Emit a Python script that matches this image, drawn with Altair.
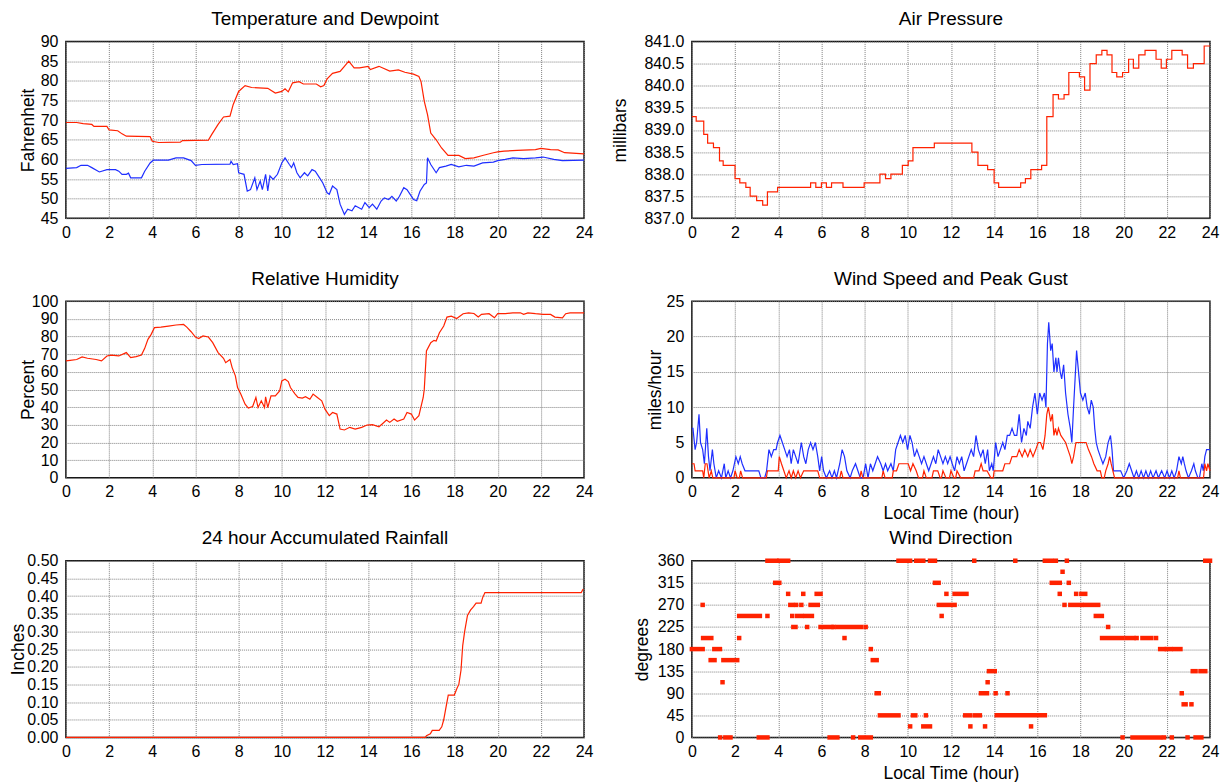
import altair as alt
import pandas as pd

FONT = "Liberation Sans"
RED = "#ff2200"
BLUE = "#1f2fff"

# ---------------- data ----------------
temp_hours = [0, 0.5, 0.8, 1.2, 1.3, 1.9, 2.0, 2.4, 2.6, 2.8, 3.9, 4.0, 4.3, 5.3, 5.4, 6.6, 6.75, 7.05, 7.3, 7.6,
              7.75, 8.0, 8.3, 8.6, 9.35, 9.7, 10.0, 10.15, 10.3, 10.5, 10.8, 11.0, 11.6, 11.8, 11.95, 12.1, 12.35,
              12.7, 12.9, 13.1, 13.35, 13.6, 14.0, 14.1, 14.5, 15.0, 15.4, 15.7, 16.1, 16.35, 16.45, 16.6, 16.75,
              16.9, 17.15, 17.4, 17.7, 18.2, 18.5, 18.9, 19.3, 19.8, 20.0, 20.3, 20.9, 21.75, 22.0, 22.45, 22.8,
              23.1, 24.0]
temp_values = [69.4, 69.4, 69.1, 68.9, 68.4, 68.4, 67.5, 67.3, 66.5, 65.9, 65.8, 64.6, 64.3, 64.4, 64.8, 64.9, 66.3,
               68.9, 70.8, 71.0, 74.0, 77.3, 78.8, 78.3, 78.1, 76.9, 77.3, 78.0, 77.2, 79.5, 79.8, 79.2, 79.2, 78.5,
               78.8, 80.5, 81.9, 82.4, 83.7, 85.0, 83.3, 83.3, 83.7, 82.9, 83.7, 82.5, 82.8, 82.2, 81.7, 81.1, 79.8,
               74.8, 71.4, 66.7, 65.0, 62.9, 61.0, 61.0, 60.2, 60.4, 61.0, 61.7, 61.9, 62.1, 62.3, 62.5, 62.8, 62.5,
               62.4, 61.7, 61.4]

dew_hours = [0, 0.5, 0.7, 1.0, 1.2, 1.55, 1.9, 2.3, 2.45, 2.6, 2.8, 2.9, 3.0, 3.5, 3.65, 3.9, 4.05, 4.75, 5.1, 5.45,
             5.8, 6.0, 6.3, 7.6, 7.65, 7.75, 7.95, 8.0, 8.25, 8.4, 8.55, 8.75, 8.85, 9.0, 9.1, 9.25, 9.35, 9.45, 9.6,
             9.8, 10.0, 10.15, 10.35, 10.45, 10.55, 10.7, 10.85, 11.05, 11.2, 11.4, 11.55, 11.75, 11.9, 12.1, 12.2,
             12.35, 12.55, 12.7, 12.9, 13.05, 13.25, 13.4, 13.7, 13.85, 14.05, 14.2, 14.4, 14.6, 14.75, 14.95, 15.1,
             15.3, 15.45, 15.65, 15.8, 16.1, 16.25, 16.4, 16.6, 16.7, 16.75, 16.9, 17.15, 17.3, 17.6, 17.85, 18.2,
             18.55, 18.9, 19.3, 19.8, 20.0, 20.35, 20.7, 21.2, 21.75, 22.1, 22.6, 23.0, 24.0]
dew_values = [57.7, 57.9, 58.5, 58.5, 57.9, 56.8, 57.4, 57.4, 57.0, 56.2, 56.2, 56.5, 55.3, 55.3, 57.0, 59.1, 59.8,
              59.8, 60.4, 60.4, 59.7, 58.5, 58.7, 58.8, 59.5, 58.7, 58.9, 56.6, 56.2, 51.9, 52.3, 55.3, 52.3, 54.5,
              52.3, 56.2, 52.0, 55.8, 54.9, 56.2, 59.1, 60.4, 58.7, 57.9, 59.1, 56.6, 55.3, 56.6, 55.8, 57.4, 57.0,
              55.3, 54.0, 51.5, 51.1, 53.2, 52.3, 48.6, 46.0, 47.3, 46.9, 48.2, 47.3, 49.0, 47.7, 48.6, 47.3, 49.4,
              50.2, 49.8, 50.6, 49.4, 50.6, 52.8, 52.3, 49.8, 49.5, 51.9, 53.6, 54.0, 60.4, 58.7, 56.6, 57.9, 58.3,
              58.7, 58.1, 58.5, 58.3, 59.1, 59.3, 59.7, 60.0, 60.4, 60.2, 60.4, 60.6, 60.0, 59.7, 59.8]

pres_hours = [0, 0.2, 0.55, 0.73, 1.0, 1.28, 1.45, 2.0, 2.22, 2.5, 2.7, 3.0, 3.28, 3.5, 3.97, 5.5, 5.74, 6.0, 6.23,
              6.47, 7.0, 7.98, 8.71, 8.97, 9.22, 9.75, 10.02, 10.24, 11.23, 12.97, 13.25, 13.7, 14.0, 14.21, 15.23,
              15.45, 15.7, 16.2, 16.44, 16.73, 16.98, 17.24, 17.46, 17.95, 18.19, 18.44, 18.73, 18.99, 19.23, 19.46,
              19.68, 19.95, 20.23, 20.45, 20.7, 20.99, 21.5, 21.74, 21.98, 22.23, 22.71, 22.96, 23.23, 23.73, 24.0]
pres_values = [839.3, 839.2, 838.9, 838.7, 838.6, 838.3, 838.2, 837.9, 837.8, 837.7, 837.5, 837.4, 837.3, 837.6,
               837.7, 837.8, 837.7, 837.8, 837.7, 837.8, 837.7, 837.8, 838.0, 837.9, 838.0, 838.2, 838.3, 838.6,
               838.7, 838.5, 838.2, 838.1, 837.8, 837.7, 837.8, 837.9, 838.1, 838.2, 839.3, 839.8, 839.7, 839.8,
               840.3, 840.2, 839.9, 840.5, 840.7, 840.8, 840.7, 840.3, 840.2, 840.3, 840.6, 840.4, 840.7, 840.8,
               840.6, 840.4, 840.6, 840.8, 840.7, 840.4, 840.5, 840.9, 840.9]

rh_hours = [0, 0.2, 0.5, 0.75, 1.0, 1.4, 1.65, 1.9, 2.1, 2.45, 2.8, 3.0, 3.25, 3.5, 3.65, 3.8, 3.95, 4.1, 4.4, 4.75,
            5.1, 5.45, 5.6, 5.8, 6.0, 6.15, 6.35, 6.6, 6.8, 7.05, 7.3, 7.4, 7.6, 7.7, 7.85, 7.95, 8.1, 8.3, 8.45,
            8.65, 8.8, 8.9, 9.05, 9.2, 9.25, 9.35, 9.5, 9.7, 9.9, 10.0, 10.15, 10.3, 10.4, 10.6, 10.75, 10.95, 11.1,
            11.3, 11.45, 11.65, 11.85, 12.0, 12.2, 12.35, 12.55, 12.7, 12.9, 13.15, 13.4, 13.7, 13.95, 14.2, 14.5,
            14.65, 14.85, 15.0, 15.2, 15.35, 15.65, 15.8, 16.0, 16.15, 16.35, 16.55, 16.6, 16.7, 16.9, 17.05,
            17.15, 17.3, 17.5, 17.65, 17.85, 18.1, 18.4, 18.65, 18.9, 19.1, 19.25, 19.6, 19.85, 20.0, 20.35, 20.7,
            21.05, 21.2, 21.4, 21.75, 22.1, 22.45, 22.65, 23.0, 23.15, 23.35, 24.0]
rh_values = [66.2, 66.5, 67.0, 68.4, 67.7, 67.0, 66.2, 69.0, 69.5, 69.0, 70.9, 68.0, 68.6, 69.5, 73.3, 78.4, 81.2,
             85.0, 85.3, 85.9, 86.5, 86.8, 85.3, 82.7, 79.7, 78.8, 80.3, 79.7, 76.5, 70.9, 67.7, 65.2, 67.0, 62.4,
             57.7, 51.1, 47.4, 41.7, 39.5, 40.4, 45.5, 39.8, 43.6, 39.8, 45.9, 39.8, 46.4, 46.4, 49.2, 54.9, 55.8,
             54.5, 51.1, 47.7, 45.5, 45.1, 45.9, 44.5, 47.4, 45.5, 43.6, 38.9, 35.2, 37.0, 36.1, 27.6, 27.1, 28.6,
             27.6, 28.6, 29.9, 30.1, 28.9, 30.5, 32.7, 31.4, 33.3, 32.0, 33.3, 37.0, 36.1, 32.7, 35.2, 45.5, 50.2,
             71.8, 76.5, 77.8, 77.4, 82.1, 85.9, 91.0, 91.5, 90.2, 92.9, 93.4, 93.0, 91.0, 92.5, 92.9, 90.6, 92.9,
             92.9, 93.4, 93.4, 92.5, 93.4, 92.9, 92.5, 92.5, 91.0, 90.6, 92.9, 93.4, 93.4]

gust_hours = [0.0, 0.05, 0.15, 0.22, 0.33, 0.4, 0.5, 0.58, 0.69, 0.77, 0.84, 0.95, 1.02, 1.13, 1.24, 1.37, 1.5,
              1.57, 1.68, 1.79, 1.9, 2.04, 2.15, 2.24, 2.33, 2.46, 3.1, 3.2, 3.37, 3.46, 3.57, 3.68, 3.79, 3.9, 3.97,
              4.08, 4.19, 4.3, 4.41, 4.52, 4.6, 4.7, 4.81, 4.92, 5.07, 5.18, 5.28, 5.39, 5.5, 5.61, 5.72, 5.83, 5.92,
              6.01, 6.1, 6.23, 6.38, 6.49, 6.6, 6.7, 6.85, 6.96, 7.07, 7.18, 7.33, 7.43, 7.58, 7.69, 7.8, 7.93, 8.05,
              8.16, 8.27, 8.38, 8.49, 8.6, 8.75, 8.86, 8.97, 9.07, 9.22, 9.33, 9.44, 9.55, 9.66, 9.77, 9.88, 9.99,
              10.1, 10.2, 10.31, 10.42, 10.53, 10.64, 10.75, 10.86, 10.97, 11.08, 11.19, 11.3, 11.41, 11.52, 11.63,
              11.74, 11.85, 11.96, 12.06, 12.17, 12.28, 12.39, 12.5, 12.61, 12.72, 12.83, 12.94, 13.05, 13.16,
              13.27, 13.38, 13.49, 13.59, 13.7, 13.78, 13.89, 13.96, 14.07, 14.18, 14.29, 14.4, 14.5, 14.61, 14.72,
              14.83, 14.94, 15.05, 15.16, 15.27, 15.38, 15.49, 15.56, 15.67, 15.78, 15.89, 16.0, 16.11, 16.22,
              16.33, 16.4, 16.47, 16.53, 16.62, 16.69, 16.77, 16.86, 16.91, 16.98, 17.06, 17.13, 17.22, 17.31,
              17.42, 17.53, 17.6, 17.68, 17.75, 17.82, 17.91, 18.0, 18.11, 18.22, 18.31, 18.41, 18.5, 18.59, 18.66,
              18.73, 18.81, 18.92, 19.04, 19.17, 19.28, 19.39, 19.46, 19.53, 19.68, 19.86, 20.0, 20.15, 20.26,
              20.37, 20.48, 20.59, 20.7, 20.81, 20.92, 21.03, 21.14, 21.25, 21.36, 21.5, 21.61, 21.76, 21.9, 22.01,
              22.12, 22.23, 22.34, 22.45, 22.56, 22.67, 22.74, 22.81, 22.89, 23.0, 23.14, 23.25, 23.32, 23.44,
              23.51, 23.62, 23.69, 23.76, 23.84, 24.0]
gust_values = [7, 7, 4, 5, 9, 5, 4, 2, 7, 3, 1, 4, 2, 0, 1, 0, 2, 0, 1, 0, 1, 3, 2, 3, 2, 1, 1, 0, 0, 1, 4, 3, 4, 4, 5,
               6, 5, 4, 3, 4, 2, 4, 3, 2, 5, 3, 2, 4, 5, 4, 5, 3, 1, 3, 1, 0, 1, 0, 1, 0, 2, 4, 3, 1, 0, 1, 2, 1, 0,
               0, 2, 0, 2, 1, 2, 3, 2, 1, 2, 1, 2, 1, 4, 5, 6, 5, 6, 4, 6, 5, 3, 4, 3, 2, 3, 2, 1, 2, 3, 2, 4, 3, 2,
               3, 2, 3, 2, 1, 3, 2, 3, 1, 2, 3, 4, 3, 6, 4, 3, 4, 2, 4, 1, 2, 1, 5, 3, 4, 5, 4, 6, 6, 7, 6, 6, 9, 5,
               7, 6, 8, 7, 10, 12, 9, 12, 11, 12, 10, 19, 22, 18, 19, 15, 17, 15, 17, 15, 14, 16, 12, 9, 7, 5, 10,
               14, 18, 15, 12, 11, 12, 10, 9, 11, 10, 7, 5, 4, 3, 2, 3, 5, 6, 4, 1, 1, 1, 0, 1, 2, 1, 0, 1, 0, 1, 0,
               1, 0, 1, 0, 1, 0, 1, 0, 1, 0, 1, 0, 1, 3, 2, 3, 2, 1, 0, 1, 2, 1, 0, 0, 2, 1, 3, 4, 4]

speed_hours = [0.0, 0.1, 0.15, 0.5, 0.55, 0.62, 0.7, 0.75, 0.8, 0.9, 0.97, 1.95, 2.0, 2.1, 2.2, 2.26, 2.35, 3.45,
               3.5, 4.0, 4.05, 4.15, 4.26, 4.37, 4.5, 4.6, 4.7, 4.81, 4.92, 5.03, 5.18, 5.83, 5.92, 6.85, 6.92, 7.0,
               7.78, 7.84, 7.92, 8.8, 8.86, 8.95, 9.28, 9.33, 9.48, 9.59, 10.02, 10.13, 10.24, 10.39, 10.5, 10.68,
               10.75, 10.86, 11.12, 11.19, 11.39, 11.5, 11.56, 11.63, 11.77, 11.93, 12.0, 12.14, 12.22, 12.28, 12.45,
               13.05, 13.12, 13.3, 13.4, 13.49, 13.67, 13.85, 13.96, 14.0, 14.4, 14.5, 14.72, 14.83, 15.05, 15.16,
               15.3, 15.42, 15.56, 15.67, 15.8, 15.93, 16.04, 16.15, 16.26, 16.36, 16.44, 16.51, 16.62, 16.7, 16.77,
               16.84, 16.91, 16.98, 17.09, 17.31, 17.42, 17.53, 17.6, 17.68, 17.79, 18.26, 18.37, 18.51, 18.62,
               18.77, 18.92, 18.99, 19.1, 19.17, 19.28, 19.35, 19.42, 19.5, 19.58, 22.5, 22.56, 22.63, 23.7, 23.76,
               23.84, 23.9, 24.0]
speed_values = [2, 2, 1, 1, 0, 2, 2, 1, 0, 1, 0, 0, 1, 0, 0, 1, 0, 0, 1, 1, 3, 2, 1, 0, 1, 0, 1, 0, 1, 0, 1, 1, 0, 0,
                1, 0, 0, 1, 0, 0, 1, 0, 0, 1, 1, 2, 2, 1, 2, 1, 0, 0, 1, 0, 0, 1, 1, 0, 0, 1, 0, 0, 1, 0, 0, 1, 0, 0,
                1, 1, 2, 1, 1, 0, 0, 1, 1, 2, 2, 3, 3, 4, 3, 4, 3, 4, 3, 4, 5, 5, 4, 6, 9, 10, 8, 9, 6, 7, 6, 7, 6,
                5, 4, 3, 2, 3, 5, 5, 4, 3, 2, 1, 1, 0, 0, 1, 2, 3, 2, 1, 0, 0, 1, 0, 0, 2, 1, 2, 1]

rain_hours = [0, 16.65, 16.7, 16.88, 16.97, 17.29, 17.41, 17.5, 17.59, 17.71, 17.99, 18.12, 18.2, 18.3, 18.38,
              18.47, 18.6, 18.74, 18.88, 19.0, 19.23, 19.3, 19.41, 23.87, 23.96]
rain_values = [0, 0, 0.005, 0.01, 0.02, 0.02, 0.03, 0.05, 0.08, 0.12, 0.12, 0.14, 0.15, 0.19, 0.26, 0.30, 0.345,
               0.36, 0.37, 0.38, 0.38, 0.395, 0.41, 0.41, 0.42]

# wind direction: runs of identical readings (start hour, end hour, degrees)
dir_start = [0.0, 0.5, 0.52, 0.87, 1.04, 1.31, 1.42, 1.46, 1.55, 2.19, 2.19, 3.1, 3.5, 3.5, 3.86, 4.05, 4.46, 4.56,
             4.83, 5.07, 5.5, 4.65, 4.88, 5.25, 4.7, 5.34, 5.16, 5.78, 5.96, 6.38, 6.56, 6.74, 8.05, 7.07, 7.47, 7.8,
             8.29, 8.38, 8.56, 8.71, 9.57, 10.11, 10.24, 10.39, 10.72, 10.84, 11.03, 11.26, 11.57, 11.44, 11.79,
             12.17, 12.66, 12.9, 13.08, 13.12, 13.39, 13.58, 13.7, 13.76, 14.07, 14.62, 14.12, 14.98, 15.71, 16.35,
             16.86, 16.67, 17.46, 17.17, 17.04, 17.8, 18.04, 17.37, 17.26, 17.53, 18.22, 18.71, 19.28, 19.0, 20.14,
             20.6, 20.87, 21.5, 19.95, 20.41, 21.87, 22.23, 22.96, 23.33, 21.69, 22.0, 22.36, 22.69, 22.78, 23.14,
             23.2, 23.56, 23.78]
dir_end = [0.5, 0.5, 0.9, 1.05, 1.3, 1.31, 1.42, 2.1, 1.79, 2.19, 3.15, 3.5, 3.5, 3.92, 4.05, 4.46, 4.46, 4.65,
           4.83, 5.07, 5.83, 4.65, 5.07, 5.56, 4.8, 5.34, 5.16, 5.96, 6.47, 6.74, 6.56, 7.84, 8.05, 7.07, 7.47, 8.29,
           8.29, 8.56, 8.66, 9.57, 10.11, 10.11, 10.35, 10.72, 11.03, 10.84, 11.26, 11.43, 11.57, 12.17, 11.79,
           12.72, 12.9, 12.9, 13.08, 13.34, 13.67, 13.58, 13.7, 14.03, 14.07, 14.62, 16.35, 14.98, 15.71, 16.67,
           16.86, 17.04, 17.46, 17.17, 17.04, 17.8, 18.22, 17.37, 17.26, 18.04, 18.82, 18.99, 19.28, 19.95, 20.46,
           20.6, 21.28, 21.5, 19.95, 21.69, 21.87, 22.23, 22.96, 23.6, 21.87, 22.18, 22.63, 22.69, 22.87, 23.14,
           23.33, 23.78, 24.0]
dir_degrees = [180, 270, 202.5, 157.5, 180, 0, 112.5, 157.5, 0, 202.5, 247.5, 0, 247.5, 360, 315, 360, 292.5, 270,
               270, 270, 270, 247.5, 247.5, 247.5, 225, 225, 292.5, 292.5, 225, 0, 225, 225, 225, 202.5, 0, 0, 180,
               157.5, 90, 45, 360, 22.5, 45, 360, 22.5, 45, 360, 315, 247.5, 270, 292.5, 292.5, 45, 22.5, 360, 45,
               90, 22.5, 112.5, 135, 90, 90, 45, 360, 22.5, 360, 360, 315, 315, 337.5, 292.5, 292.5, 292.5, 360, 270,
               270, 270, 247.5, 225, 202.5, 202.5, 202.5, 202.5, 202.5, 0, 0, 0, 0, 0, 0, 180, 180, 180, 90, 67.5,
               67.5, 135, 135, 360]

hour_ticks = list(range(0, 25, 2))

# ---------------- helpers ----------------
W, H = 519, 177


def x_enc(field="h", title=None):
    if title:
        ax = alt.Axis(values=hour_ticks, title=title, labelFlush=False, labelPadding=6, titleY=41,
                      titleBaseline="alphabetic")
    else:
        ax = alt.Axis(values=hour_ticks, title=None, labelFlush=False, labelPadding=6)
    return alt.X(f"{field}:Q", scale=alt.Scale(domain=[0, 24], nice=False, zero=False), axis=ax)


def y_enc(field, domain, ticks, fmt, title, tx):
    return alt.Y(f"{field}:Q",
                 scale=alt.Scale(domain=domain, nice=False, zero=False),
                 axis=alt.Axis(values=ticks, format=fmt, title=title, titleAngle=270,
                               titleBaseline="middle", titleAlign="center", titleX=tx, titleY=H / 2,
                               labelFlush=False, labelPadding=8))


def ttl(text):
    return alt.TitleParams(text, fontSize=19, font=FONT, fontWeight="normal", baseline="alphabetic",
                           offset=0, dy=10.5, anchor="middle", color="black")


def line(df, color, **kw):
    return alt.Chart(df).mark_line(color=color, strokeWidth=1.2, **kw)


temp_df = pd.DataFrame({"h": temp_hours, "v": temp_values})
dew_df = pd.DataFrame({"h": dew_hours, "v": dew_values})
pres_df = pd.DataFrame({"h": pres_hours, "v": pres_values})
rh_df = pd.DataFrame({"h": rh_hours, "v": rh_values})
gust_df = pd.DataFrame({"h": gust_hours, "v": gust_values})
speed_df = pd.DataFrame({"h": speed_hours, "v": speed_values})
rain_df = pd.DataFrame({"h": rain_hours, "v": rain_values})
dir_df = pd.DataFrame({"s": dir_start, "e": dir_end, "d": dir_degrees})

y_temp = y_enc("v", [45, 90], list(range(45, 91, 5)), "d", "Fahrenheit", -37)
c1 = alt.layer(
    line(temp_df, RED).encode(x=x_enc(), y=y_temp),
    line(dew_df, BLUE).encode(x=x_enc(), y=y_temp),
).properties(width=W, height=H, title=ttl("Temperature and Dewpoint"))

c2 = line(pres_df, RED, interpolate="step-after").encode(
    x=x_enc(),
    y=y_enc("v", [837, 841], [837 + 0.5 * i for i in range(9)], ".1f", "millibars", -71),
).properties(width=W, height=H, title=ttl("Air Pressure"))

c3 = line(rh_df, RED).encode(
    x=x_enc(),
    y=y_enc("v", [0, 100], list(range(0, 101, 10)), "d", "Percent", -37),
).properties(width=W, height=H, title=ttl("Relative Humidity"))

y_wind = y_enc("v", [0, 25], list(range(0, 26, 5)), "d", "miles/hour", -36.5)
c4 = alt.layer(
    line(gust_df, BLUE).encode(x=x_enc(title="Local Time (hour)"), y=y_wind),
    line(speed_df, RED).encode(x=x_enc(title="Local Time (hour)"), y=y_wind),
).properties(width=W, height=H, title=ttl("Wind Speed and Peak Gust"))

c5 = line(rain_df, RED).encode(
    x=x_enc(),
    y=y_enc("v", [0, 0.5], [round(0.05 * i, 2) for i in range(11)], ".2f", "Inches", -47.5),
).properties(width=W, height=H, title=ttl("24 hour Accumulated Rainfall"))

c6 = alt.Chart(dir_df).mark_rule(color=RED, strokeWidth=4.5, strokeCap="square").encode(
    x=x_enc("s", title="Local Time (hour)"),
    x2="e:Q",
    y=y_enc("d", [0, 360], list(range(0, 361, 45)), "d", "degrees", -49.5),
).properties(width=W, height=H, title=ttl("Wind Direction"))

chart = alt.concat(c1, c2, c3, c4, c5, c6, columns=2, spacing={"row": 83, "column": 108}).properties(
    bounds="flush", padding=0
).configure(font=FONT).configure_axis(
    labelFont=FONT, titleFont=FONT, labelFontSize=16, titleFontSize=17.5, labelColor="black",
    titleColor="black", titleFontWeight="normal", grid=True, gridColor="#808080", gridDash=[1, 1],
    gridWidth=1, ticks=False, tickSize=0, domain=False,
).configure_view(stroke="#111111", strokeWidth=1.5)

chart.save("out.html", embed_options={"renderer": "svg", "actions": False})
